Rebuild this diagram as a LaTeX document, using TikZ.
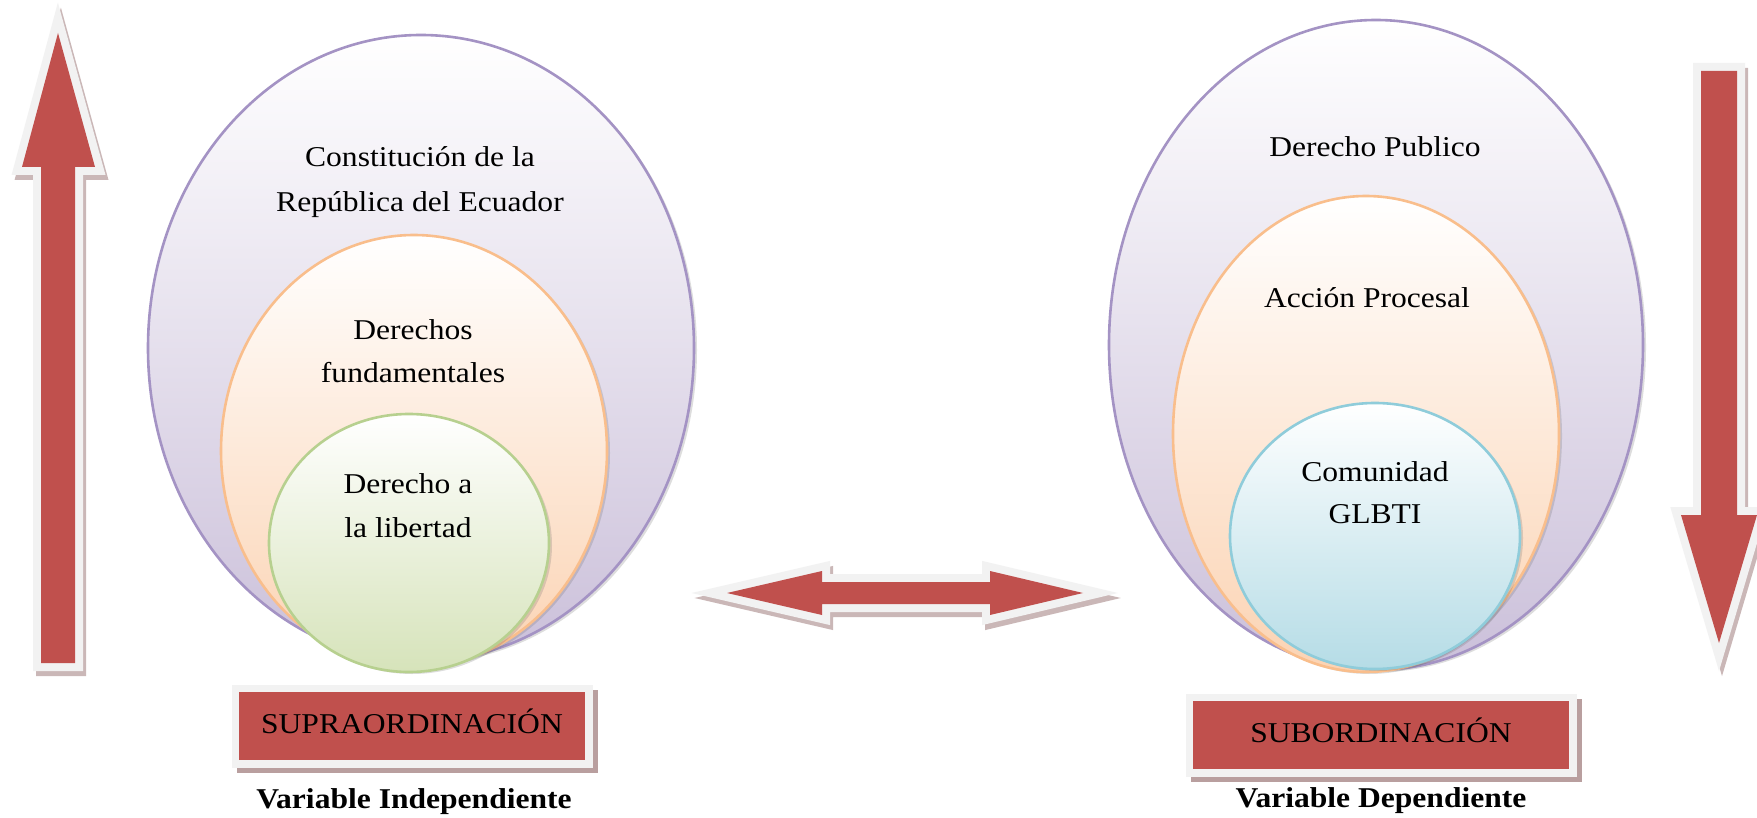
\documentclass[tikz,border=0pt]{standalone}
\usepackage{fontspec}
\setmainfont{Liberation Serif}[FakeStretch=1.1]
\usetikzlibrary{shapes.geometric,shadows}
\definecolor{arrred}{HTML}{C0504D}
\definecolor{bord}{HTML}{F2F2F2}
\definecolor{shd}{HTML}{A88888}
\definecolor{purpB}{HTML}{A493C4}
\definecolor{purpF}{HTML}{CBC0DA}
\definecolor{orB}{HTML}{F9BE8C}
\definecolor{orF}{HTML}{FBD3B3}
\definecolor{grB}{HTML}{B7D08F}
\definecolor{grF}{HTML}{D6E3BA}
\definecolor{blB}{HTML}{8FCCDA}
\definecolor{blF}{HTML}{B5DCE6}
\begin{document}
\begin{tikzpicture}[x=1pt,y=-1pt,
  every node/.style={font=\fontsize{28.7}{34}\selectfont, inner sep=0pt},
  ell/.style={ellipse, inner sep=0pt, line width=2.6pt,
    drop shadow={shadow xshift=3pt, shadow yshift=-2pt, opacity=0.22, fill=black!60}},
  txt/.style={anchor=base},
  bigarrow/.style={fill=arrred, line join=miter,
    preaction={draw=shd, fill=shd, line width=16pt, line join=miter, opacity=0.6,
      transform canvas={shift={(3pt,-5pt)}}},
    preaction={draw=bord, line width=16pt, line join=miter}},
  labbox/.style={fill=arrred, text height=14pt, text depth=0pt,
    preaction={draw=shd, fill=shd, line width=15pt, opacity=0.8,
      transform canvas={shift={(5pt,-5pt)}}},
    preaction={draw=bord, line width=15pt}},
  vartxt/.style={anchor=base, font=\fontsize{28.7}{34}\selectfont\bfseries}
]
\useasboundingbox (0,0) rectangle (1757,818);
\fill[white] (0,0) rectangle (1757,818);

% left vertical arrow (up)
\path[bigarrow] (41,663) -- (41,167) -- (22,167) -- (58,33) -- (95,167) -- (75,167) -- (75,663) -- cycle;
% right vertical arrow (down)
\path[bigarrow] (1701,71) -- (1737,71) -- (1737,515) -- (1757,515) -- (1719,643) -- (1681,515) -- (1701,515) -- cycle;
% double arrow
\path[bigarrow] (727,593) -- (822,571) -- (822,582) -- (990,582) -- (990,571) -- (1083,593) -- (990,615) -- (990,604) -- (822,604) -- (822,615) -- cycle;

% left ellipses
\node[ell, draw=purpB, top color=white, bottom color=purpF, minimum width=546pt, minimum height=626pt] (constE) at (421,348) {};
\node[ell, draw=orB, top color=white, bottom color=orF, minimum width=386pt, minimum height=432pt] (dfE) at (414,451) {};
\node[ell, draw=grB, top color=white, bottom color=grF, minimum width=280pt, minimum height=258pt] (libE) at (409,543) {};

% right ellipses
\node[ell, draw=purpB, top color=white, bottom color=purpF, minimum width=534pt, minimum height=650pt] (dpE) at (1376,345) {};
\node[ell, draw=orB, top color=white, bottom color=orF, minimum width=386pt, minimum height=476pt] (apE) at (1366,434) {};
\node[ell, draw=blB, top color=white, bottom color=blF, minimum width=290pt, minimum height=266pt] (glE) at (1375,536) {};

% texts
\node[txt] (t1) at (420,167) {Constitución de la};
\node[txt] (t2) at (420,212) {República del Ecuador};
\node[txt] (t3) at (413,340) {Derechos};
\node[txt] (t4) at (413,382) {fundamentales};
\node[txt] (t5) at (408,493) {Derecho a};
\node[txt] (t6) at (408,537) {la libertad};
\node[txt] (t7) at (1375,157) {Derecho Publico};
\node[txt] (t8) at (1367,308) {Acción Procesal};
\node[txt] (t9) at (1375,481) {Comunidad};
\node[txt] (t10) at (1375,523) {GLBTI};

% label boxes
\node[labbox, minimum width=346pt, minimum height=68pt] (supra) at (412,726) {SUPRAORDINACIÓN};
\node[labbox, minimum width=376pt, minimum height=68pt] (sub) at (1381,735) {SUBORDINACIÓN};
\node[vartxt] (vi) at (414,808) {Variable Independiente};
\node[vartxt] (vd) at (1381,807) {Variable Dependiente};
\end{tikzpicture}
\end{document}
